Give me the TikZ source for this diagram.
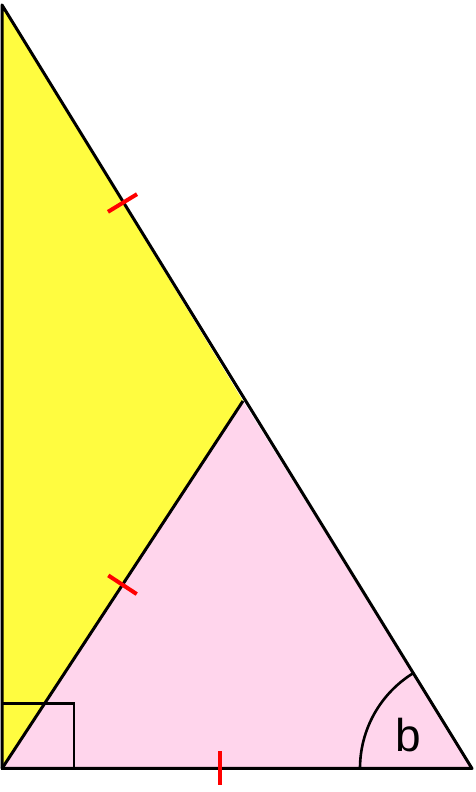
\documentclass[tikz,border=0pt]{standalone}
\usepackage{fontspec}
\setmainfont{Liberation Sans}
\usetikzlibrary{calc}
\definecolor{yellowfill}{RGB}{255,252,64}
\definecolor{pinkfill}{RGB}{255,213,236}
\tikzset{
  side/.style={line width=3pt, line join=round},
  tick/.style={red, line width=4pt},
}
\begin{document}
\begin{tikzpicture}[x=1pt,y=1pt]
        \useasboundingbox (0,0) rectangle (476,792);
        \coordinate (T) at (2,787);
        \coordinate (BL) at (2,23.5);
        \coordinate (BR) at (472,23.5);
        \coordinate (M) at (243,391);
        % Rellena los dos triangulos
        \fill [yellowfill] (T) -- (BL) -- (M) -- cycle;
        \fill [pinkfill] (BL) -- (M) -- (BR) -- cycle;
        % Angulo recto y angulo b
        \draw [line width=2.6pt] (BL) rectangle ++(72,65);
        \draw [line width=2.6pt] (BR) ++(180:112) arc[start angle=180, end angle=122, radius=112];
        \node (b) at (408,57) {\fontsize{46}{46}\selectfont b};
        % Lados
        \draw [side] (T) -- (BL) -- (BR) -- cycle;
        \draw [side] (BL) -- (M);
        % Marcas de igualdad
        \coordinate (t1) at ($(T)!0.5!(M)$);
        \coordinate (t2) at ($(BL)!0.5!(M)$);
        \coordinate (t3) at ($(BL)!0.464!(BR)$);
        \draw [tick] ($(t1)!17pt!90:(M)$) -- ($(t1)!17pt!-90:(M)$);
        \draw [tick] ($(t2)!17pt!90:(M)$) -- ($(t2)!17pt!-90:(M)$);
        \draw [tick] ($(t3)!17pt!90:(BR)$) -- ($(t3)!17pt!-90:(BR)$);
\end{tikzpicture}
\end{document}
